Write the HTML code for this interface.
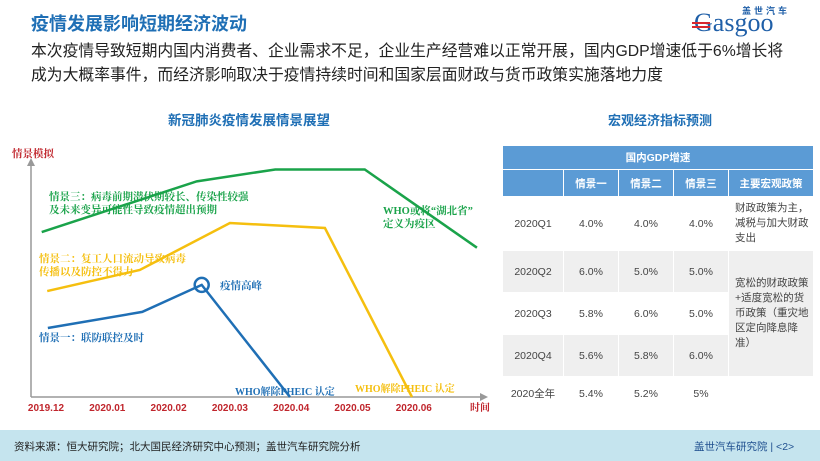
<!DOCTYPE html>
<html><head><meta charset="utf-8"><style>
body{margin:0;width:820px;height:461px;overflow:hidden;background:#fff;position:relative;font-family:"Liberation Sans","Noto Sans CJK SC",sans-serif}
.abs{position:absolute;white-space:nowrap}
table{border-collapse:collapse;position:absolute;left:502px;top:145px;font-size:10.5px;color:#444}
td{text-align:center;padding:0;border:1.5px solid #fff}
.h{background:#5b9bd5;color:#fff;font-weight:bold}
.g{background:#efefef}
</style></head><body>
<div class="abs" style="left:31px;top:10px;font-size:18px;color:#1f6fb5;font-weight:bold">疫情发展影响短期经济波动</div>
<div class="abs" style="left:690px;top:2px;width:125px;height:36px">
<div class="abs" style="left:52px;top:2px;font-size:9px;color:#1f5fa8;font-weight:bold;letter-spacing:3px">盖世汽车</div>
<div class="abs" style="left:4px;top:7px;font-size:26px;line-height:28px;color:#1f5fa8;font-family:'Liberation Serif',serif">G<span>asgoo</span></div>
<div class="abs" style="left:2px;top:20px;width:18px;height:2px;background:#d9272e;box-shadow:0 4px 0 #d9272e"></div>
</div>
<div class="abs" style="left:31px;top:40px;font-size:15.8px;color:#222;line-height:24px">本次疫情导致短期内国内消费者、企业需求不足，企业生产经营难以正常开展，国内GDP增速低于6%增长将<br>成为大概率事件，而经济影响取决于疫情持续时间和国家层面财政与货币政策实施落地力度</div>
<div class="abs" style="left:168px;top:109px;font-size:13.5px;color:#1f6fb5;font-weight:bold">新冠肺炎疫情发展情景展望</div>
<div class="abs" style="left:608px;top:110px;font-size:13px;color:#1f6fb5;font-weight:bold">宏观经济指标预测</div>

<svg class="abs" style="left:0;top:0" width="500" height="425">
<g id="axes"></g><g id="lines"></g><g id="labels"></g>
</svg>

<table>
<tr style="height:24px"><td class="h" colspan="5" style="width:306px">国内GDP增速</td></tr>
<tr style="height:27px"><td class="h" style="width:60px"></td><td class="h" style="width:54px">情景一</td><td class="h" style="width:54px">情景二</td><td class="h" style="width:54px">情景三</td><td class="h" style="width:84px">主要宏观政策</td></tr>
<tr style="height:54px"><td>2020Q1</td><td>4.0%</td><td>4.0%</td><td>4.0%</td><td style="text-align:left;padding-left:6px;line-height:15px;white-space:normal">财政政策为主，减税与加大财政支出</td></tr>
<tr style="height:42px"><td class="g">2020Q2</td><td class="g">6.0%</td><td class="g">5.0%</td><td class="g">5.0%</td><td class="g" rowspan="3" style="text-align:left;padding-left:6px;line-height:15px;white-space:normal">宽松的财政政策+适度宽松的货币政策（重灾地区定向降息降准）</td></tr>
<tr style="height:42px"><td>2020Q3</td><td>5.8%</td><td>6.0%</td><td>5.0%</td></tr>
<tr style="height:42px"><td class="g">2020Q4</td><td class="g">5.6%</td><td class="g">5.8%</td><td class="g">6.0%</td></tr>
<tr style="height:34px"><td>2020全年</td><td>5.4%</td><td>5.2%</td><td>5%</td><td></td></tr>
</table>

<div class="abs" style="left:0;top:430px;width:820px;height:31px;background:#c5e4ee"></div>
<div class="abs" style="left:14px;top:439px;font-size:10.5px;color:#222">资料来源：恒大研究院；北大国民经济研究中心预测；盖世汽车研究院分析</div>
<div class="abs" style="left:694px;top:439px;font-size:10.5px;color:#1f4f8f">盖世汽车研究院 | &lt;2&gt;</div>

<script>
const months=["2019.12","2020.01","2020.02","2020.03","2020.04","2020.05","2020.06"];
const greenX=[-0.07,2.46,3.74,5.2,7.03];
const greenY=[69.6,91,96,96,63];
const yellowX=[0.02,1.53,3.0,4.55,5.97];
const yellowY=[44.7,53.6,73.4,71.3,0];
const blueX=[0.03,1.57,2.54,3.98];
const blueY=[29.1,35.9,47.3,0];
const peakX=2.54, peakY=47.3;
const NS="http://www.w3.org/2000/svg";
const xs=m=>46+m*61.3, ys=v=>397-v*2.37;
function mk(t,a,p){const e=document.createElementNS(NS,t);for(const k in a)e.setAttribute(k,a[k]);p.appendChild(e);return e;}
const ax=document.getElementById('axes'),ln=document.getElementById('lines'),lb=document.getElementById('labels');
const ya=mk('line',{x1:31,y1:397,x2:31,y2:163,stroke:'#999','stroke-width':1.5},ax);

mk('polygon',{points:'27,166 31,158 35,166',fill:'#999'},ax);
const xa=mk('line',{x1:31,y1:397,x2:482,y2:397,stroke:'#999','stroke-width':1.5},ax);

mk('polygon',{points:'480,393 488,397 480,401',fill:'#999'},ax);
months.forEach((m,i)=>{const t=mk('text',{x:xs(i),y:411,'text-anchor':'middle','font-size':10,'font-weight':'bold',fill:'#c0262d'},ax);t.textContent=m;
});
function txt(s,x,y,c,n,sz){const t=mk('text',{x:x,y:y,'font-size':sz||10.5,'font-weight':'bold',fill:c,'font-family':'"Liberation Serif","Noto Serif CJK SC",serif'},lb);t.textContent=s;
}
txt('时间',470,411,'#c0262d','x-axis-title',10);
txt('情景模拟',12,157,'#c0262d','y-axis-title',10.5);
function line(X,Y,c,n){const p=mk('polyline',{points:X.map((x,i)=>xs(x)+','+ys(Y[i])).join(' '),fill:'none',stroke:c,'stroke-width':2.5},ln);
}
line(greenX,greenY,'#1aa34a','scenario-3-line');
line(yellowX,yellowY,'#f5bf0f','scenario-2-line');
line(blueX,blueY,'#1f6fb5','scenario-1-line');
const c=mk('circle',{cx:xs(peakX),cy:ys(peakY),r:7,fill:'none',stroke:'#1f6fb5','stroke-width':2.5},ln);

txt('情景三：病毒前期潜伏期较长、传染性较强',49,200,'#1aa34a','scenario-3-label');
txt('及未来变异可能性导致疫情超出预期',49,213,'#1aa34a','scenario-3-label-2');
txt('WHO或将“湖北省”',383,214,'#1aa34a','who-hubei-note');
txt('定义为疫区',383,227,'#1aa34a','who-hubei-note-2');
txt('情景二：复工人口流动导致病毒',39,262,'#f5bf0f','scenario-2-label');
txt('传播以及防控不得力',39,275,'#f5bf0f','scenario-2-label-2');
txt('疫情高峰',220,289,'#1f6fb5','peak-label');
txt('情景一：联防联控及时',39,341,'#1f6fb5','scenario-1-label');
txt('WHO解除PHEIC 认定',235,395,'#1f6fb5','who-pheic-1',10);
txt('WHO解除PHEIC 认定',355,392,'#f5bf0f','who-pheic-2',10);
</script>
</body></html>
